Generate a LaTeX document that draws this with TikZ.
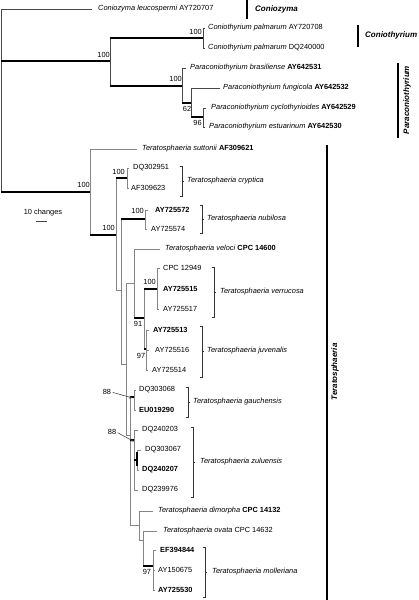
\documentclass[tikz,border=0pt]{standalone}
\usepackage{fontspec}
\setmainfont{Liberation Sans}
\usetikzlibrary{arrows.meta}
\begin{document}
\begin{tikzpicture}[x=1pt,y=-1pt,
  tline/.style={draw=black!72,line width=0.6pt},
  gline/.style={draw=black!48,line width=0.7pt},
  bline/.style={draw=black,line width=1.4pt},
  leaf/.style={anchor=west,inner sep=0pt,font=\fontsize{7.4}{8.5}\selectfont},
  bsl/.style={inner sep=0pt,font=\fontsize{7.4}{8.5}\selectfont},
  brk/.style={draw=black!80,line width=0.7pt},
  cbar/.style={draw=black,line width=2.2pt},
  clab/.style={inner sep=0pt,font=\fontsize{8}{9}\selectfont\bfseries\itshape},
  arr/.style={draw=black!80,line width=0.5pt,-{Stealth[length=3.5pt,width=2.8pt]}}]
\useasboundingbox (0,0) rectangle (418,600);
\fill[white] (0,0) rectangle (418,600);

% ---------- outgroups ----------
\draw[tline] (1,9) -- (1,192);
\draw[tline] (1,9) -- (92,9);
\draw[bline] (1,61) -- (110,61);
\draw[bline] (1,192) -- (90,192);
\draw[tline] (110,38) -- (110,86);
\draw[bline] (110,38) -- (203,38);
\draw[tline] (203,27.5) -- (203,48.5);
\draw[tline] (203,28) -- (205,28) (203,48) -- (205,48);
\draw[bline] (110,86) -- (182,86);
\draw[tline] (182,67.5) -- (182,103);
\draw[tline] (182,68) -- (186,68);
\draw[bline] (182,103) -- (191,103);
\draw[tline] (191,88) -- (191,117);
\draw[tline] (191,88) -- (220,88);
\draw[bline] (191,117) -- (203,117);
\draw[tline] (203,107.5) -- (203,127.5);
\draw[tline] (203,108) -- (206,108) (203,127) -- (205,127);

% ---------- Teratosphaeria ----------
\draw[gline] (90,149) -- (90,235);
\draw[gline] (90,149) -- (137,149);
\draw[bline] (90,235) -- (116,235);
\draw[gline] (116,178) -- (116,290);
\draw[bline] (116,178) -- (127,178);
\draw[gline] (127,167.5) -- (127,188.5);
\draw[gline] (127,168) -- (129,168) (127,188) -- (129,188);
\draw[gline] (116,290) -- (121,290);
\draw[gline] (121,219) -- (121,364);
\draw[bline] (121,219) -- (145,219);
\draw[gline] (145,209.5) -- (145,229.5);
\draw[gline] (145,210) -- (148,210) (145,229) -- (147,229);
\draw[gline] (121,364) -- (126,364);
\draw[gline] (126,283) -- (126,435);
\draw[gline] (126,283) -- (134,283);
\draw[gline] (134,249) -- (134,318);
\draw[gline] (134,249) -- (160,249);
\draw[bline] (134,318) -- (144,318);
\draw[gline] (144,289) -- (144,349);
\draw[bline] (144,289) -- (157,289);
\draw[gline] (157,267.5) -- (157,309.5);
\draw[gline] (157,268) -- (160,268) (157,309) -- (159,309);
\draw[bline] (144,349) -- (146,349);
\draw[gline] (146,329.5) -- (146,370.5);
\draw[gline] (146,330) -- (149,330) (146,350) -- (149,350) (146,370) -- (148,370);
\draw[gline] (126,435) -- (130,435);
\draw[gline] (130,397) -- (130,525);
\draw[bline] (130,397) -- (134,397);
\draw[gline] (134,389.5) -- (134,410.5);
\draw[gline] (134,390) -- (136,390) (134,410) -- (136,410);
\draw[bline] (130,440) -- (134,440);
\draw[gline] (134,429.5) -- (134,490.5);
\draw[gline] (134,430) -- (138,430) (134,490) -- (138,490);
\draw[bline] (134,460) -- (137,460);
\draw[gline] (137,449.5) -- (137,470.5);
\draw[bline] (137,452) -- (137,466);
\draw[gline] (137,450) -- (141,450) (137,470) -- (139,470);
\draw[gline] (130,525) -- (139,525);
\draw[gline] (139,511) -- (139,540);
\draw[gline] (139,511) -- (153,511);
\draw[gline] (139,540) -- (143,540);
\draw[gline] (143,531) -- (143,566);
\draw[gline] (143,531) -- (157,531);
\draw[bline] (143,566) -- (153,566);
\draw[gline] (153,549.5) -- (153,590.5);
\draw[gline] (153,550) -- (156,550) (153,570) -- (155,570) (153,590) -- (155,590);

% ---------- leaf labels ----------
\node[leaf] (l1) at (98,9) {\textit{Coniozyma leucospermi} AY720707};
\node[leaf] (l2) at (208,28) {\textit{Coniothyrium palmarum} AY720708};
\node[leaf] (l3) at (208,48) {\textit{Coniothyrium palmarum} DQ240000};
\node[leaf] (l4) at (190,68) {\textit{Paraconiothyrium brasiliense} \textbf{AY642531}};
\node[leaf] (l5) at (223,88) {\textit{Paraconiothyrium fungicola} \textbf{AY642532}};
\node[leaf] (l6) at (211,108) {\textit{Paraconiothyrium cyclothyrioides} \textbf{AY642529}};
\node[leaf] (l7) at (209,127) {\textit{Paraconiothyrium estuarinum} \textbf{AY642530}};
\node[leaf] (l8) at (142,149) {\textit{Teratosphaeria suttonii} \textbf{AF309621}};
\node[leaf] (l9) at (133,168) {DQ302951};
\node[leaf] (l10) at (131,188) {AF309623};
\node[leaf] (l11) at (155,210) {\textbf{AY725572}};
\node[leaf] (l12) at (151,229) {AY725574};
\node[leaf] (l13) at (165,249) {\textit{Teratosphaeria veloci} \textbf{CPC 14600}};
\node[leaf] (l14) at (163,268) {CPC 12949};
\node[leaf] (l15) at (163,289) {\textbf{AY725515}};
\node[leaf] (l16) at (163,309) {AY725517};
\node[leaf] (l17) at (153,330) {\textbf{AY725513}};
\node[leaf] (l18) at (155,350) {AY725516};
\node[leaf] (l19) at (152,370) {AY725514};
\node[leaf] (l20) at (139,390) {DQ303068};
\node[leaf] (l21) at (139,410) {\textbf{EU019290}};
\node[leaf] (l22) at (142,430) {DQ240203};
\node[leaf] (l23) at (145,450) {DQ303067};
\node[leaf] (l24) at (142,470) {\textbf{DQ240207}};
\node[leaf] (l25) at (142,490) {DQ239976};
\node[leaf] (l26) at (158,511) {\textit{Teratosphaeria dimorpha} \textbf{CPC 14132}};
\node[leaf] (l27) at (163,531) {\textit{Teratosphaeria ovata} CPC 14632};
\node[leaf] (l28) at (160,550) {\textbf{EF394844}};
\node[leaf] (l29) at (158,570) {AY150675};
\node[leaf] (l30) at (158,590) {\textbf{AY725530}};

% ---------- bootstrap values ----------
\node[bsl,anchor=east] (b1) at (110,55) {100};
\node[bsl,anchor=east] (b2) at (202,32) {100};
\node[bsl,anchor=east] (b3) at (182,79) {100};
\node[bsl] (b4) at (187,108.5) {62};
\node[bsl] (b5) at (197.5,123) {96};
\node[bsl,anchor=east] (b6) at (90,185) {100};
\node[bsl,anchor=east] (b7) at (125,172) {100};
\node[bsl,anchor=east] (b8) at (144,211) {100};
\node[bsl,anchor=east] (b9) at (115,228) {100};
\node[bsl,anchor=east] (b10) at (156,282) {100};
\node[bsl] (b11) at (138,324) {91};
\node[bsl] (b12) at (141,356) {97};
\node[bsl] (b13) at (107,392) {88};
\node[bsl] (b14) at (112,432) {88};
\node[bsl] (b15) at (147,572) {97};
\coordinate (a1) at (132.5,398);
\coordinate (a2) at (134,441.5);
\draw[arr,shorten <=1.5pt] (b13.east) -- (a1);
\draw[arr,shorten <=1.5pt] (b14.east) -- (a2);

% ---------- scale bar ----------
\node[bsl] (sc) at (43,213) {10 changes};
\draw[tline] (36,221) -- (47,221);

% ---------- species brackets ----------
\draw[brk] (179.5,166) -- (182,166) -- (182,196) -- (179.5,196) (182,181) -- (184,181);
\node[leaf] (s1) at (187,181) {\textit{Teratosphaeria cryptica}};
\draw[brk] (199.5,205) -- (202,205) -- (202,233) -- (199.5,233) (202,219) -- (204,219);
\node[leaf] (s2) at (207,219) {\textit{Teratosphaeria nubilosa}};
\draw[brk] (211.5,267) -- (214,267) -- (214,317) -- (211.5,317) (214,292) -- (216,292);
\node[leaf] (s3) at (220,292) {\textit{Teratosphaeria verrucosa}};
\draw[brk] (199.5,326) -- (202,326) -- (202,377) -- (199.5,377) (202,351) -- (204,351);
\node[leaf] (s4) at (207,351) {\textit{Teratosphaeria juvenalis}};
\draw[brk] (185.5,387) -- (188,387) -- (188,417) -- (185.5,417) (188,402) -- (190,402);
\node[leaf] (s5) at (193,402) {\textit{Teratosphaeria gauchensis}};
\draw[brk] (190.5,427) -- (193,427) -- (193,497) -- (190.5,497) (193,462) -- (195,462);
\node[leaf] (s6) at (200,462) {\textit{Teratosphaeria zuluensis}};
\draw[brk] (202.5,547) -- (205,547) -- (205,597) -- (202.5,597) (205,572) -- (207,572);
\node[leaf] (s7) at (212,572) {\textit{Teratosphaeria molleriana}};

% ---------- genus bars ----------
\draw[cbar] (247,0) -- (247,19);
\node[clab,anchor=west] (g1) at (255,9) {Coniozyma};
\draw[cbar] (358,25) -- (358,47);
\node[clab,anchor=west] (g2) at (365,35) {Coniothyrium};
\draw[cbar] (398,63) -- (398,138);
\node[clab,rotate=90] (g3) at (407,100) {Paraconiothyrium};
\draw[cbar] (327,145) -- (327,600);
\node[clab,rotate=90] (g4) at (335,372) {Teratosphaeria};
\end{tikzpicture}
\end{document}
